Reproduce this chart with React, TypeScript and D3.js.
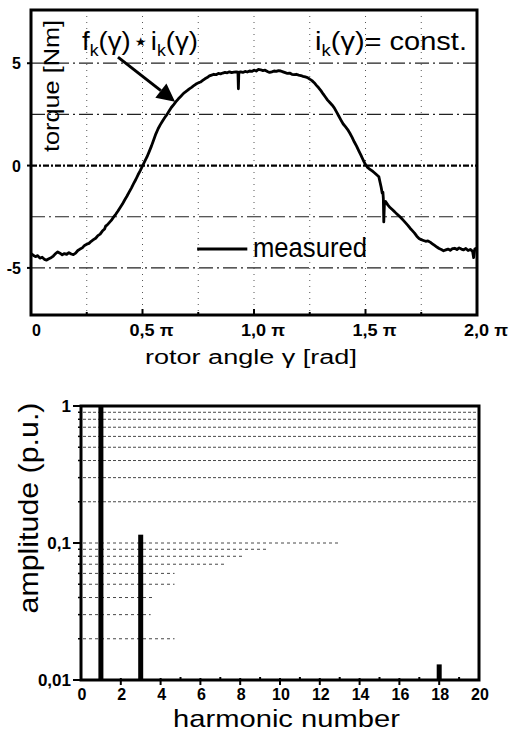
import { useEffect, useRef } from "react";
import * as d3 from "d3";

// measured torque, angle in units of pi
const anglePi = [
  0, 0.01, 0.02, 0.03, 0.04, 0.05, 0.06, 0.07, 0.08, 0.09, 0.1, 0.11, 0.12, 0.13, 0.14, 0.15, 0.16, 0.17, 0.18, 0.19,
  0.2, 0.21, 0.22, 0.23, 0.24, 0.25, 0.26, 0.27, 0.28, 0.29, 0.3, 0.31, 0.32, 0.33, 0.335, 0.34, 0.35, 0.36, 0.37, 0.38,
  0.39, 0.4, 0.41, 0.42, 0.43, 0.44, 0.45, 0.46, 0.47, 0.48, 0.49, 0.5, 0.51, 0.52, 0.53, 0.54, 0.55, 0.56, 0.57, 0.58,
  0.59, 0.6, 0.61, 0.62, 0.63, 0.64, 0.65, 0.66, 0.67, 0.68, 0.69, 0.7, 0.71, 0.72, 0.73, 0.74, 0.75, 0.76, 0.77, 0.78,
  0.79, 0.8, 0.81, 0.82, 0.83, 0.84, 0.85, 0.86, 0.87, 0.88, 0.89, 0.9, 0.91, 0.92, 0.928, 0.93, 0.932, 0.94, 0.95, 0.96,
  0.97, 0.98, 0.99, 1.0, 1.01, 1.02, 1.03, 1.04, 1.05, 1.06, 1.07, 1.08, 1.09, 1.1, 1.11, 1.12, 1.13, 1.14, 1.15, 1.16,
  1.17, 1.18, 1.19, 1.2, 1.21, 1.22, 1.23, 1.24, 1.25, 1.26, 1.27, 1.28, 1.29, 1.3, 1.31, 1.32, 1.33, 1.34, 1.35, 1.36,
  1.37, 1.38, 1.39, 1.4, 1.41, 1.42, 1.43, 1.44, 1.45, 1.46, 1.47, 1.48, 1.49, 1.5, 1.51, 1.52, 1.53, 1.54, 1.55, 1.56,
  1.565, 1.57, 1.575, 1.578, 1.58, 1.582, 1.585, 1.59, 1.6, 1.61, 1.62, 1.63, 1.64, 1.65, 1.66, 1.67, 1.68, 1.69, 1.7,
  1.71, 1.72, 1.73, 1.74, 1.75, 1.76, 1.77, 1.78, 1.79, 1.8, 1.81, 1.82, 1.83, 1.84, 1.85, 1.86, 1.87, 1.88, 1.89, 1.9,
  1.91, 1.92, 1.93, 1.94, 1.95, 1.96, 1.97, 1.98, 1.985, 1.99, 2.0,
];
const torque = [
  -4.3, -4.38, -4.45, -4.4, -4.52, -4.48, -4.58, -4.62, -4.55, -4.5, -4.42, -4.3, -4.22, -4.28, -4.36, -4.3, -4.34, -4.25, -4.32, -4.35,
  -4.28, -4.15, -4.08, -4.02, -3.9, -3.84, -3.8, -3.7, -3.62, -3.55, -3.42, -3.35, -3.2, -3.1, -2.95, -2.92, -2.8, -2.68, -2.52, -2.38,
  -2.22, -2.05, -1.88, -1.68, -1.5, -1.3, -1.1, -0.88, -0.68, -0.45, -0.25, -0.02, 0.2, 0.42, 0.68, 0.95, 1.25, 1.55, 1.8, 2.0,
  2.18, 2.35, 2.5, 2.68, 2.85, 2.98, 3.12, 3.25, 3.36, 3.48, 3.58, 3.66, 3.75, 3.82, 3.9, 3.98, 4.04, 4.08, 4.16, 4.24,
  4.3, 4.38, 4.42, 4.46, 4.44, 4.5, 4.48, 4.52, 4.55, 4.53, 4.58, 4.54, 4.56, 4.58, 4.56, 3.75, 4.55, 4.58, 4.55, 4.6,
  4.57, 4.62, 4.6, 4.66, 4.62, 4.7, 4.68, 4.64, 4.66, 4.6, 4.55, 4.58, 4.62, 4.6, 4.64, 4.62, 4.58, 4.54, 4.5, 4.52,
  4.46, 4.44, 4.46, 4.42, 4.4, 4.36, 4.33, 4.3, 4.22, 4.15, 4.05, 3.92, 3.8, 3.66, 3.5, 3.35, 3.2, 3.08, 2.96, 2.82,
  2.62, 2.42, 2.22, 2.03, 1.9, 1.76, 1.58, 1.38, 1.15, 0.95, 0.72, 0.5, 0.26, 0.05, -0.1, -0.18, -0.26, -0.35, -0.45, -0.55,
  -0.8, -1.05, -1.35, -1.3, -1.6, -2.75, -1.8, -1.75, -1.92, -2.05, -2.15, -2.25, -2.36, -2.45, -2.56, -2.68, -2.8, -2.92, -3.06,
  -3.18, -3.3, -3.45, -3.56, -3.62, -3.66, -3.7, -3.68, -3.74, -3.82, -3.9, -3.98, -4.05, -4.1, -4.16, -4.12, -4.08, -4.14, -4.06, -4.04,
  -4.1, -4.02, -4.08, -4.12, -4.05, -4.15, -4.1, -4.18, -4.5, -4.08, -4.02,
];
const angleTicks = [0, 0.5, 1, 1.5, 2];
const angleGrid = [0.25, 0.5, 0.75, 1, 1.25, 1.5, 1.75];
const torqueTicks = [5, 0, -5];
const torqueGrid = [5, 2.5, -2.5, -5];

// harmonic spectrum
const harmonics = [1, 3, 18];
const amplitude = [1.0, 0.115, 0.013];
const harmonicTicks = [0, 2, 4, 6, 8, 10, 12, 14, 16, 18, 20];
const ampTicks = [1, 0.1, 0.01];
const ampTickLabels = ["1", "0,1", "0,01"];
const upperGrid = [0.9, 0.8, 0.7, 0.6, 0.5, 0.4, 0.3, 0.2];
const lowerGrid = [0.1, 0.09, 0.08, 0.07, 0.06, 0.05, 0.04, 0.03, 0.02];
// how far (in harmonic number) the faded lower grid lines show up in the scan
const lowerGridEnd = [13, 9.3, 8.1, 7.3, 4.7, 4.7, 3.6, 3.5, 4.7];

const FONT = "'Liberation Sans', Arial, Helvetica, sans-serif";

export default function App() {
  const ref = useRef<SVGSVGElement>(null);

  useEffect(() => {
    const svg = d3.select(ref.current);
    svg.selectAll("*").remove();

    // put a text in a group and stretch it horizontally to a given width
    const fitText = (x: number, y: number, width: number, build: (t: any) => void, rot = 0, anchor = "start") => {
      const g = svg.append("g");
      const t = g.append("text").attr("font-family", FONT).attr("text-anchor", anchor).attr("fill", "#000");
      build(t);
      const w = (t.node() as SVGTextElement).getBBox().width || width;
      g.attr("transform", `translate(${x},${y}) rotate(${rot}) scale(${width / w},1)`);
      return g;
    };

    // ---------- top chart ----------
    const x = d3.scaleLinear().domain([0, 2]).range([31, 477]);
    const y = d3.scaleLinear().domain([-7.3, 7.6]).range([315, 10]);
    const top = svg.append("g");

    angleGrid.forEach((a) => {
      top.append("line")
        .attr("x1", x(a)).attr("x2", x(a)).attr("y1", y(7.6)).attr("y2", y(-7.3))
        .attr("stroke", "#555").attr("stroke-width", 1).attr("stroke-dasharray", "1,5");
    });
    torqueGrid.forEach((v) => {
      top.append("line")
        .attr("x1", x(0)).attr("x2", x(2)).attr("y1", y(v)).attr("y2", y(v))
        .attr("stroke", "#222").attr("stroke-width", 1.2).attr("stroke-dasharray", "14,4,2,4");
    });
    top.append("line")
      .attr("x1", x(0)).attr("x2", x(2)).attr("y1", y(0)).attr("y2", y(0))
      .attr("stroke", "#000").attr("stroke-width", 2.2).attr("stroke-dasharray", "6,2,2,2");

    // bottom axis small ticks
    d3.range(1, 8).forEach((i) => {
      const a = i * 0.25;
      top.append("line")
        .attr("x1", x(a)).attr("x2", x(a)).attr("y1", y(-7.3)).attr("y2", y(-7.3) - (i % 2 === 0 ? 6 : 3))
        .attr("stroke", "#000").attr("stroke-width", 2);
    });
    torqueTicks.forEach((v) => {
      top.append("line")
        .attr("x1", x(0) - 4).attr("x2", x(0)).attr("y1", y(v)).attr("y2", y(v))
        .attr("stroke", "#000").attr("stroke-width", 2);
      top.append("text")
        .attr("x", 21).attr("y", y(v) + 6)
        .attr("text-anchor", "end").attr("font-family", FONT).attr("font-weight", "bold").attr("font-size", 16)
        .text(v < 0 ? `-${Math.abs(v)}` : `${v}`);
    });

    const pts = anglePi.map((a, i) => [a, torque[i]] as [number, number]);
    top.append("path")
      .attr("d", d3.line<[number, number]>().x((d) => x(d[0])).y((d) => y(d[1]))(pts))
      .attr("fill", "none").attr("stroke", "#000").attr("stroke-width", 2.8).attr("stroke-linejoin", "round");

    top.append("rect")
      .attr("x", x(0)).attr("y", y(7.6)).attr("width", x(2) - x(0)).attr("height", y(-7.3) - y(7.6))
      .attr("fill", "none").attr("stroke", "#000").attr("stroke-width", 3);

    // x tick labels
    angleTicks.forEach((a) => {
      if (a === 0) {
        fitText(x(0) + 1, 336, 9, (t) => t.attr("font-weight", "bold").attr("font-size", 16).text("0"));
      } else {
        fitText(x(a) - 13, 336, 44, (t) =>
          t.attr("font-weight", "bold").attr("font-size", 16).text(`${a.toFixed(1).replace(".", ",")} π`)
        );
      }
    });
    fitText(145, 364, 212, (t) => t.attr("font-size", 21).text("rotor angle γ [rad]"));
    fitText(59, 86, 132, (t) => t.attr("font-size", 22).text("torque [Nm]"), -90, "middle");

    // annotation + arrow
    fitText(82, 50, 116, (t) => {
      t.attr("font-size", 25);
      t.append("tspan").text("f");
      t.append("tspan").attr("font-size", 16).attr("dy", 6).text("k");
      t.append("tspan").attr("dy", -6).text("(γ)");
      t.append("tspan").attr("font-family", "'DejaVu Sans'").attr("font-size", 12).attr("dy", -4).text(" ★ ");
      t.append("tspan").attr("dy", 4).text("i");
      t.append("tspan").attr("font-size", 16).attr("dy", 6).text("k");
      t.append("tspan").attr("dy", -6).text("(γ)");
    });
    fitText(315, 50, 152, (t) => {
      t.attr("font-size", 25);
      t.append("tspan").text("i");
      t.append("tspan").attr("font-size", 16).attr("dy", 6).text("k");
      t.append("tspan").attr("dy", -6).text("(γ)= const.");
    });

    const aStart: [number, number] = [x(0.39), y(5.3)];
    const aTip: [number, number] = [x(0.646), y(3.12)];
    const dx = aTip[0] - aStart[0], dy = aTip[1] - aStart[1];
    const len = Math.hypot(dx, dy);
    const ux = dx / len, uy = dy / len;
    const bx = aTip[0] - 18 * ux, by = aTip[1] - 18 * uy;
    top.append("line")
      .attr("x1", aStart[0]).attr("y1", aStart[1]).attr("x2", bx).attr("y2", by)
      .attr("stroke", "#000").attr("stroke-width", 3);
    top.append("path")
      .attr("d", `M${aTip[0]},${aTip[1]}L${bx - 9 * uy},${by + 9 * ux}L${bx + 9 * uy},${by - 9 * ux}Z`)
      .attr("fill", "#000");

    // legend
    top.append("line")
      .attr("x1", x(0.745)).attr("x2", x(0.97)).attr("y1", y(-4.08)).attr("y2", y(-4.08))
      .attr("stroke", "#000").attr("stroke-width", 3);
    fitText(253, 257, 114, (t) => t.attr("font-size", 28).text("measured"));

    // ---------- bottom chart ----------
    const hx = d3.scaleLinear().domain([0, 20]).range([81, 479]);
    const hy = d3.scaleLog().domain([0.01, 1]).range([680, 406]);
    const bot = svg.append("g");

    upperGrid.forEach((v) => {
      bot.append("line")
        .attr("x1", hx(0) + 2).attr("x2", hx(20)).attr("y1", hy(v)).attr("y2", hy(v))
        .attr("stroke", "#333").attr("stroke-width", 0.9).attr("stroke-dasharray", "3,2");
      bot.append("line")
        .attr("x1", hx(0) - 3).attr("x2", hx(0)).attr("y1", hy(v)).attr("y2", hy(v))
        .attr("stroke", "#000").attr("stroke-width", 1.5);
    });
    lowerGrid.forEach((v, i) => {
      bot.append("line")
        .attr("x1", hx(0) + 2).attr("x2", hx(lowerGridEnd[i])).attr("y1", hy(v)).attr("y2", hy(v))
        .attr("stroke", "#333").attr("stroke-width", 0.9).attr("stroke-dasharray", "3,3");
      bot.append("line")
        .attr("x1", hx(0) - 3).attr("x2", hx(0)).attr("y1", hy(v)).attr("y2", hy(v))
        .attr("stroke", "#000").attr("stroke-width", 1.5);
    });

    harmonics.forEach((h, i) => {
      bot.append("rect")
        .attr("x", hx(h) - 2.5).attr("width", 5)
        .attr("y", hy(amplitude[i])).attr("height", hy(0.01) - hy(amplitude[i]))
        .attr("fill", "#000");
    });

    bot.append("rect")
      .attr("x", hx(0)).attr("y", hy(1)).attr("width", hx(20) - hx(0)).attr("height", hy(0.01) - hy(1))
      .attr("fill", "none").attr("stroke", "#000").attr("stroke-width", 3);

    d3.range(1, 20).forEach((h) => {
      bot.append("line")
        .attr("x1", hx(h)).attr("x2", hx(h))
        .attr("y1", hy(0.01) + (h % 2 === 0 ? 5 : 0)).attr("y2", hy(0.01) - (h % 2 === 0 ? 2 : 3))
        .attr("stroke", "#000").attr("stroke-width", 2);
    });
    harmonicTicks.forEach((h) => {
      bot.append("text")
        .attr("x", hx(h) + 1).attr("y", 700)
        .attr("text-anchor", "middle").attr("font-family", FONT).attr("font-weight", "bold").attr("font-size", 16)
        .text(h);
    });
    ampTicks.forEach((v, i) => {
      bot.append("line")
        .attr("x1", hx(0) - 8).attr("x2", hx(0)).attr("y1", hy(v)).attr("y2", hy(v))
        .attr("stroke", "#000").attr("stroke-width", 2);
      bot.append("text")
        .attr("x", 71).attr("y", hy(v) + 6)
        .attr("text-anchor", "end").attr("font-family", FONT).attr("font-weight", "bold").attr("font-size", 17)
        .text(ampTickLabels[i]);
    });

    fitText(173, 727, 227, (t) => t.attr("font-size", 24).text("harmonic number"));
    fitText(38, 508, 211, (t) => t.attr("font-size", 27).text("amplitude (p.u.)"), -90, "middle");
  }, []);

  return (
    <svg
      ref={ref}
      width={509}
      height={736}
      style={{ position: "absolute", left: 0, top: 0, background: "#fff" }}
    />
  );
}
